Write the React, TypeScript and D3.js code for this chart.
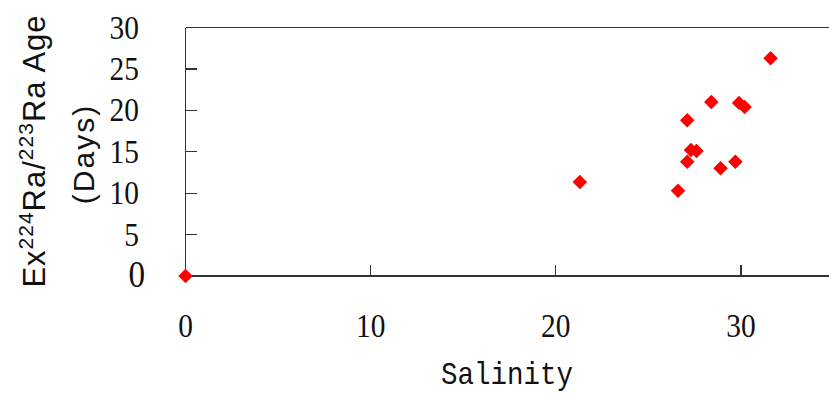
import React from "react";
import * as d3 from "d3";

// Salinity vs. excess 224Ra/223Ra apparent age
const salinity = [0, 21.3, 26.6, 27.1, 27.1, 27.3, 27.6, 28.4, 28.9, 29.7, 29.9, 30.2, 31.6];
const ageDays = [0, 11.35, 10.3, 13.8, 18.8, 15.2, 15.1, 21.0, 13.0, 13.8, 20.9, 20.4, 26.3];
const xTicks = [0, 10, 20, 30];
const yTicks = [0, 5, 10, 15, 20, 25, 30];

const W = 829;
const H = 394;

export default function App() {
  const x = d3.scaleLinear().domain([0, 35]).range([185.5, 833.5]);
  const y = d3.scaleLinear().domain([0, 30]).range([276, 27.5]);
  const diamond = d3.symbol().type(d3.symbolSquare).size(105)();
  const axisColor = "#333";
  const tickFont = "'Liberation Serif', 'DejaVu Serif', serif";
  const labelFont = "'Liberation Sans', Arial, sans-serif";

  return (
    <svg
      width={W}
      height={H}
      style={{ position: "absolute", left: 0, top: 0, background: "#fff" }}
    >
      <rect width={W} height={H} fill="#fff" />
      {/* plot frame */}
      <g stroke={axisColor} strokeWidth={1.2} fill="none" shapeRendering="crispEdges">
        <line x1={x(0)} x2={x(35)} y1={y(30)} y2={y(30)} />
        <line x1={x(0)} x2={x(35)} y1={y(0)} y2={y(0)} />
        <line x1={x(0)} x2={x(0)} y1={y(0)} y2={y(30)} />
        <line x1={x(35)} x2={x(35)} y1={y(0)} y2={y(30)} />
        {xTicks.slice(1).map((t) => (
          <line key={"xt" + t} x1={x(t)} x2={x(t)} y1={y(0)} y2={y(0) - 11} />
        ))}
        {yTicks.slice(1, -1).map((t) => (
          <line key={"yt" + t} x1={x(0)} x2={x(0) + 11} y1={y(t)} y2={y(t)} />
        ))}
      </g>
      {/* tick labels */}
      <g fontFamily={tickFont} fill="#111">
        {xTicks.map((t) => (
          <text
            key={"xl" + t}
            fontSize={31}
            transform={`translate(${x(t)},337) scale(0.95,1.08)`}
            textAnchor="middle"
          >
            {t}
          </text>
        ))}
        {yTicks.map((t) => (
          <text
            key={"yl" + t}
            fontSize={t === 0 ? 35 : 31}
            transform={`translate(${t === 0 ? 145 : 139},${y(t) + 11}) scale(0.95,1.08)`}
            textAnchor="end"
          >
            {t}
          </text>
        ))}
      </g>
      {/* axis titles */}
      <text
        transform="translate(507,384) scale(0.86,1)"
        textAnchor="middle"
        fontFamily="'Liberation Mono', 'DejaVu Sans Mono', monospace"
        fontSize={32}
        fill="#111"
      >
        Salinity
      </text>
      <g fontFamily={labelFont} fill="#111">
        <text
          transform="translate(45,151) rotate(-90)"
          textAnchor="middle"
          fontSize={31}
          letterSpacing={1}
        >
          Ex
          <tspan fontSize={21} dy={-12}>224</tspan>
          <tspan dy={12}>Ra/</tspan>
          <tspan fontSize={21} dy={-12}>223</tspan>
          <tspan dy={12}>Ra  Age</tspan>
        </text>
        <text
          transform="translate(94,154) rotate(-90)"
          textAnchor="middle"
          fontSize={30}
          letterSpacing={2}
        >
          (Days)
        </text>
      </g>
      {/* data points */}
      <g fill="#ff0000">
        {salinity.map((s, i) => (
          <path
            key={i}
            d={diamond}
            transform={`translate(${x(s)},${y(ageDays[i])}) rotate(45)`}
          />
        ))}
      </g>
    </svg>
  );
}
